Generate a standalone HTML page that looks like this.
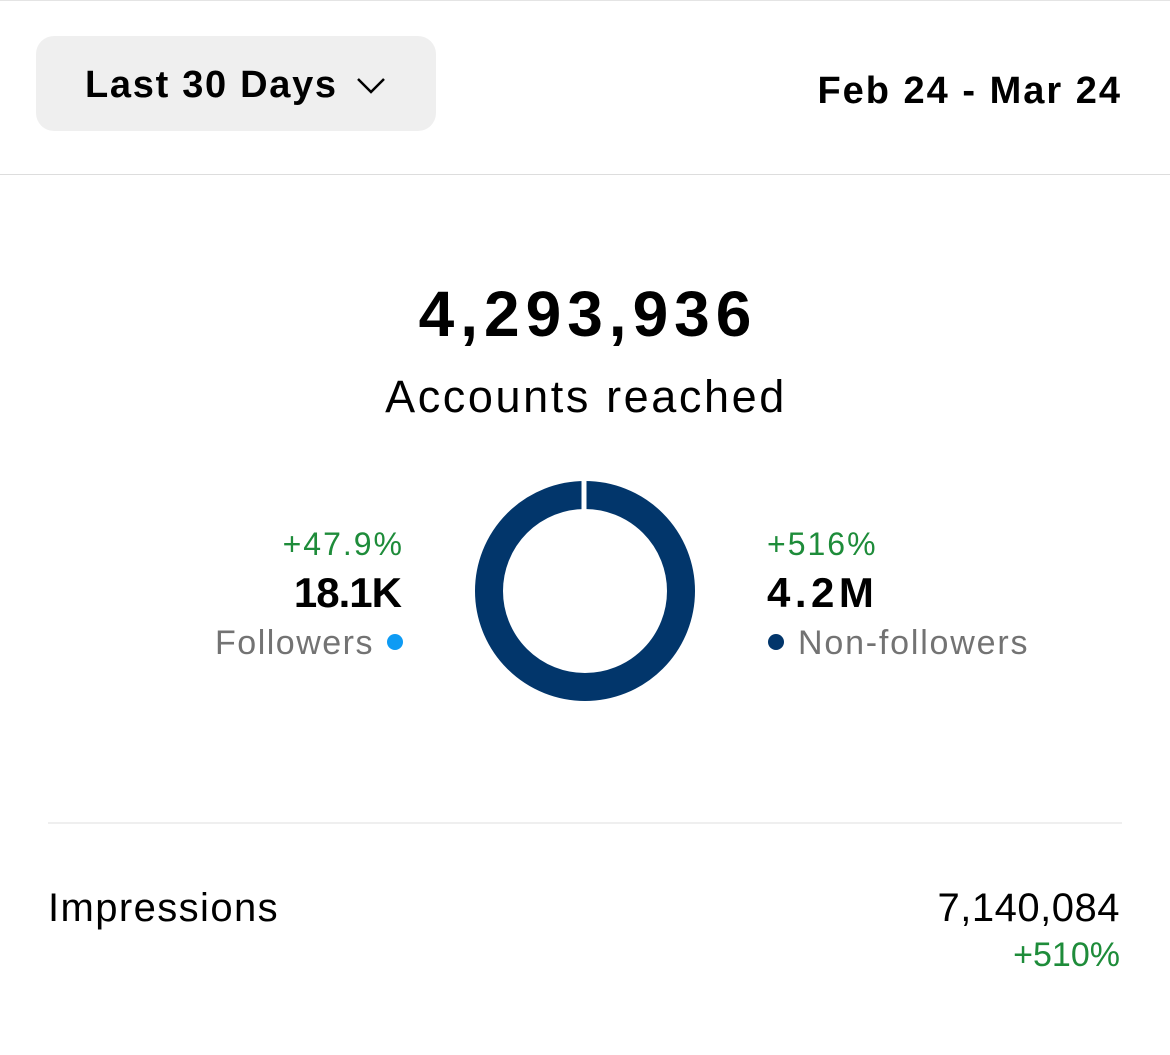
<!DOCTYPE html>
<html><head><style>
body{margin:0;width:1170px;height:1055px;background:#fff;font-family:"Liberation Sans",Arial,sans-serif;position:relative;overflow:hidden;color:#000}
.a{position:absolute;white-space:nowrap;line-height:1}
</style></head><body>
<div style="position:absolute;left:0;top:0;width:1170px;height:1px;background:#e4e4e4"></div>
<div style="position:absolute;left:36px;top:36px;width:400px;height:95px;background:#efefef;border-radius:18px"></div>
<div class="a" style="left:85px;top:66px;font-size:38px;font-weight:bold;letter-spacing:1.7px">Last 30 Days</div>
<svg style="position:absolute;left:355px;top:74px" width="32" height="22"><polyline points="3,5 16,18 29,5" fill="none" stroke="#000" stroke-width="2.5"/></svg>
<div class="a" style="right:48px;top:72px;font-size:38px;font-weight:bold;letter-spacing:2px">Feb 24 - Mar 24</div>
<div style="position:absolute;left:0;top:174px;width:1170px;height:1px;background:#ddd"></div>
<div class="a" style="left:3px;width:1170px;text-align:center;top:282px;font-size:64px;font-weight:bold;letter-spacing:6px">4,293,936</div>
<div class="a" style="left:1px;width:1170px;text-align:center;top:374px;font-size:45px;letter-spacing:2.6px">Accounts reached</div>
<svg style="position:absolute;left:465px;top:471px" width="240" height="240">
<circle cx="120" cy="120" r="96" fill="none" stroke="#02366b" stroke-width="28"/>
<rect x="116.5" y="8" width="5" height="32" fill="#fff"/>
</svg>
<div class="a" style="right:766px;top:528px;font-size:32px;color:#1e8c3a;letter-spacing:2px">+47.9%</div>
<div class="a" style="right:769px;top:572px;font-size:42px;font-weight:bold;letter-spacing:-1px">18.1K</div>
<div class="a" style="right:796px;top:626px;font-size:34px;color:#737373;letter-spacing:1.5px">Followers</div>
<div style="position:absolute;left:387px;top:634px;width:16px;height:16px;border-radius:50%;background:#0e9bf4"></div>
<div class="a" style="left:767px;top:528px;font-size:32px;color:#1e8c3a;letter-spacing:2px">+516%</div>
<div class="a" style="left:767px;top:572px;font-size:42px;font-weight:bold;letter-spacing:4.5px">4.2M</div>
<div style="position:absolute;left:768px;top:634px;width:16px;height:16px;border-radius:50%;background:#02366b"></div>
<div class="a" style="left:798px;top:626px;font-size:34px;color:#737373;letter-spacing:1.8px">Non-followers</div>
<div style="position:absolute;left:48px;top:822px;width:1074px;height:2px;background:#efefef"></div>
<div class="a" style="left:48px;top:888px;font-size:40px;letter-spacing:1.4px">Impressions</div>
<div class="a" style="right:50px;top:888px;font-size:40px;letter-spacing:0.5px">7,140,084</div>
<div class="a" style="right:50px;top:938px;font-size:34px;color:#1e8c3a">+510%</div>
</body></html>
